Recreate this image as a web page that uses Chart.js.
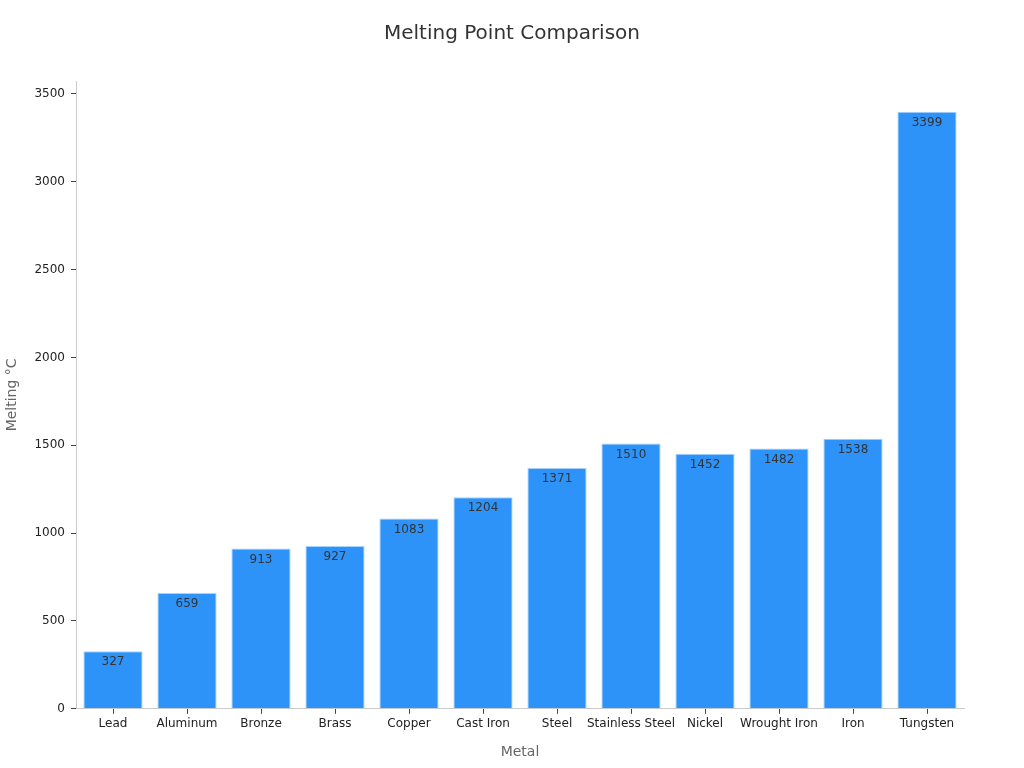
<!DOCTYPE html>
<html><head><meta charset="utf-8">
<script src="https://cdn.jsdelivr.net/npm/chart.js@4/dist/chart.umd.min.js"></script>
<style>html,body{margin:0;padding:0;background:#fff}#wrap{width:1024px;height:768px}</style>
</head><body><div id="wrap"><canvas id="c" width="1024" height="768"></canvas></div>
<script>
const categories = ["Lead","Aluminum","Bronze","Brass","Copper","Cast Iron","Steel","Stainless Steel","Nickel","Wrought Iron","Iron","Tungsten"];
const meltingC = [327,659,913,927,1083,1204,1371,1510,1452,1482,1538,3399];
const yTicks = [0,500,1000,1500,2000,2500,3000,3500];
const chartTitle = 'Melting Point Comparison';

const labelPlugin = {
  id:'barLabels',
  afterDatasetsDraw(chart){
    const ctx = chart.ctx;
    const meta = chart.getDatasetMeta(0);
    ctx.save();
    ctx.font = '12px "DejaVu Sans", sans-serif';
    ctx.fillStyle = '#333';
    ctx.textAlign = 'center';
    ctx.textBaseline = 'top';
    meta.data.forEach((bar,i)=>{
      ctx.fillText(String(meltingC[i]), bar.x, bar.y + 5);
    });
    ctx.restore();
  },
  afterDraw(chart){
    const ctx = chart.ctx;
    ctx.save();
    ctx.font = '20px "DejaVu Sans", sans-serif';
    ctx.fillStyle = '#333';
    ctx.textAlign = 'center';
    ctx.textBaseline = 'middle';
    ctx.fillText(chartTitle, chart.width/2, 34);
    ctx.restore();
  }
};

new Chart(document.getElementById('c'), {
  type:'bar',
  data:{labels:categories,datasets:[{data:meltingC,backgroundColor:'#2e93f9',borderColor:'#a8d1fb',borderWidth:1,barPercentage:0.8,categoryPercentage:1.0}]},
  options:{
    responsive:false,animation:false,
    layout:{padding:{left:0,right:60,top:81,bottom:1}},
    plugins:{legend:{display:false},tooltip:{enabled:false},title:{display:false}},
    scales:{
      x:{offset:true,grid:{display:true,offset:false,drawOnChartArea:false,drawTicks:true,tickLength:5,color:'#444'},border:{color:'#ccc'},
        ticks:{color:'#222',font:{family:'"DejaVu Sans", sans-serif',size:12},maxRotation:0,autoSkip:false,padding:3},
        title:{display:true,text:'Metal',color:'#666',font:{family:'"DejaVu Sans", sans-serif',size:14},padding:{top:10,bottom:6}}},
      y:{min:0,max:3574,grid:{display:true,drawOnChartArea:false,drawTicks:true,tickLength:5,color:'#444'},border:{color:'#ccc'},
        afterBuildTicks(s){s.ticks=yTicks.map(v=>({value:v}));},
        afterFit(s){s.width=76;},
        ticks:{color:'#222',font:{family:'"DejaVu Sans", sans-serif',size:12},callback:v=>String(v),padding:6},
        title:{display:true,text:'Melting °C',color:'#666',font:{family:'"DejaVu Sans", sans-serif',size:14},padding:{bottom:8}}}
    }
  },
  plugins:[labelPlugin]
});
</script></body></html>
